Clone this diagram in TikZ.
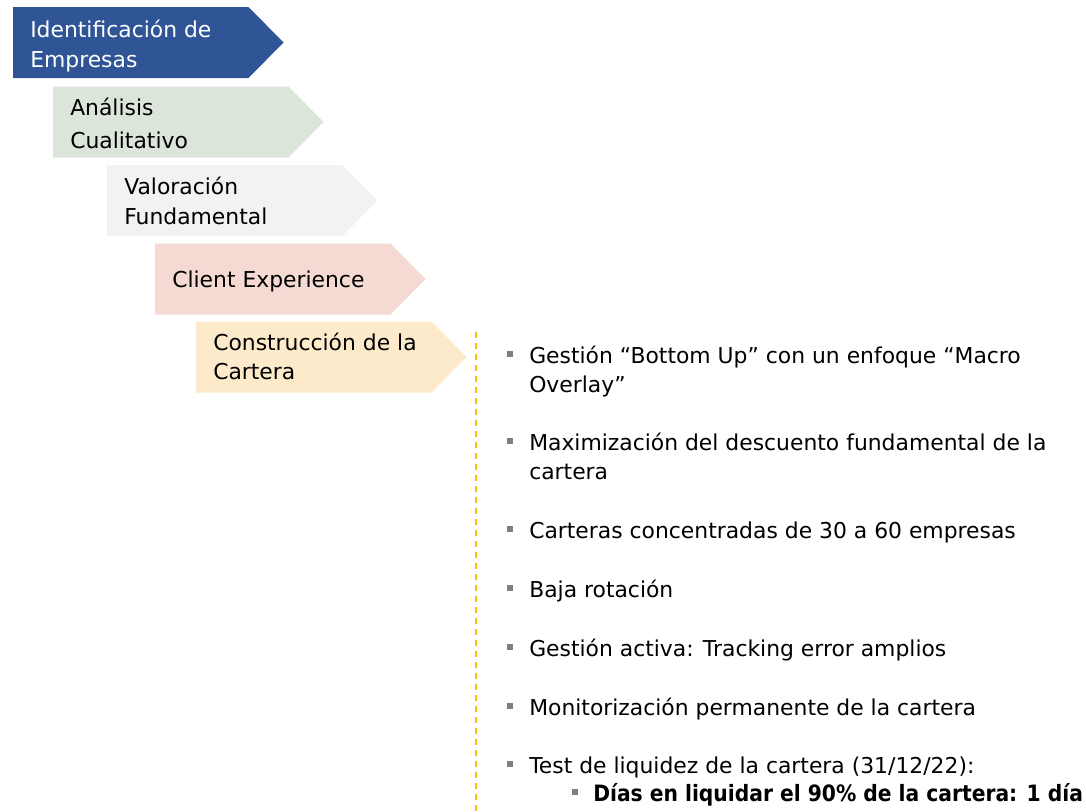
\documentclass[tikz,border=0pt]{standalone}
\usepackage{fontspec}
\setmainfont{DejaVu Sans}[BoldFont={DejaVu Sans Condensed Bold}]
\definecolor{azul}{HTML}{2F5597}
\definecolor{verde}{HTML}{DBE5DA}
\definecolor{grisclaro}{HTML}{F2F2F2}
\definecolor{rosa}{HTML}{F4DAD2}
\definecolor{crema}{HTML}{FCEACB}
\definecolor{oro}{HTML}{FFC000}
\definecolor{vineta}{HTML}{7F7F7F}
\tikzset{
  paso/.style={anchor=base west,inner sep=0pt,align=left,font=\fontsize{16.4}{22.5}\selectfont},
  punto/.style={anchor=base west,inner sep=0pt,align=left,font=\fontsize{16.4}{21.75}\selectfont},
  cuadro/.style={fill=vineta,inner sep=0pt,minimum size=5.2pt},
  guia/.style={draw=oro,line width=1.5pt,dash pattern=on 4.5pt off 3.75pt}
}
\newcommand{\flecha}[3]{\fill[#3] (#1,#2) -- ++(235.5,0) -- ++(35,35.5) -- ++(-35,35.5) -- ++(-235.5,0) -- cycle;}
\begin{document}
\begin{tikzpicture}[x=0.75pt,y=-0.75pt]
\useasboundingbox (0,0) rectangle (1086,811);

% pasos del proceso
\flecha{13}{7}{azul}
\flecha{53}{86.5}{verde}
\flecha{107}{165}{grisclaro}
\flecha{155}{243.5}{rosa}
\flecha{196}{321.5}{crema}

% el ancla base es la ultima linea
\node[paso,text=white] (ident) at (30,67) {Identificación de\\Empresas};
\node[paso] (analisis) at (70,148) {Análisis\\[2.25pt]Cualitativo};
\node[paso] (valor) at (124,224) {Valoración\\Fundamental};
\node[paso] (client) at (172,287) {Client Experience};
\node[paso] (constr) at (213,379) {Construcción de la\\[-0.75pt]Cartera};

% linea de separacion
\coordinate (sepA) at (476,332);
\coordinate (sepB) at (476,811);
\draw[guia] (sepA) -- (sepB);

% puntos
\node[cuadro] (b1) at (510,354) {};
\node[cuadro] (b2) at (510,441) {};
\node[cuadro] (b3) at (510,529) {};
\node[cuadro] (b4) at (510,588) {};
\node[cuadro] (b5) at (510,647) {};
\node[cuadro] (b6) at (510,706) {};
\node[cuadro] (b7) at (510,764) {};
\node[cuadro] (b8) at (575,792) {};

\node[punto] (t1) at (529,392) {Gestión “Bottom Up” con un enfoque “Macro\\Overlay”};
\node[punto] (t2) at (529,479) {Maximización del descuento fundamental de la\\cartera};
\node[punto] (t3) at (529,538) {Carteras concentradas de 30 a 60 empresas};
\node[punto] (t4) at (529,597) {Baja rotación};
\node[punto] (t5) at (529,656) {Gestión activa: Tracking error amplios};
\node[punto] (t6) at (529,715) {Monitorización permanente de la cartera};
\node[punto] (t7) at (529,773) {Test de liquidez de la cartera (31/12/22):};
\node[punto,font=\fontsize{16.9}{21.75}\selectfont\bfseries] (t8) at (593,801) {Días en liquidar el 90\% de la cartera: 1 día};
\end{tikzpicture}
\end{document}
